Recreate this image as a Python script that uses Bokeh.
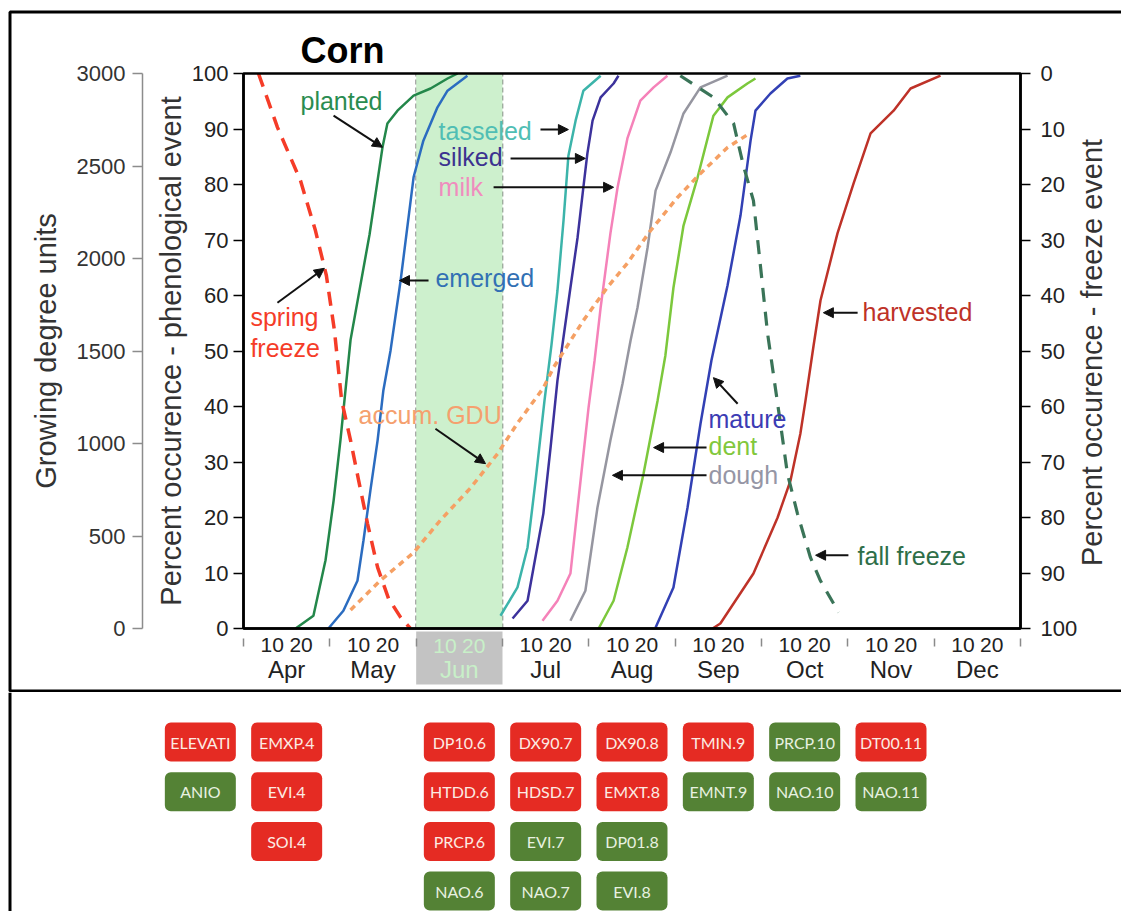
import math
from bokeh.plotting import figure
from bokeh.models import (Range1d, LinearAxis, FixedTicker, Arrow, NormalHead,
                          Label, BoxAnnotation, Span, ColumnDataSource)
from bokeh.layouts import column
from bokeh.embed import file_html
from bokeh.resources import INLINE
from bokeh.core.properties import value

# ---------------------------------------------------------------- data
months = ["Apr", "May", "Jun", "Jul", "Aug", "Sep", "Oct", "Nov", "Dec"]
month_numbers = [4, 5, 6, 7, 8, 9, 10, 11, 12]
day_ticks = [10, 20]
highlight_month = "Jun"
DAYS_PER_MONTH = 30          # the chart draws every month with equal width

percent_ticks = list(range(0, 101, 10))
gdu_ticks = list(range(0, 3001, 500))
GDU_MAX = 3000

# x values: days counted from 1 April (30-day months)
planted_day = [18.1, 24.3, 28.5, 31.3, 33.7, 37.2, 43.8, 48.3, 50.0, 53.5, 59.1, 65.0, 70.9, 74.4]
planted_pct = [0, 2.3, 12.3, 23, 34, 52, 71, 86.7, 91, 93.3, 96, 97.3, 99.1, 100]

emerged_day = [29.5, 34.7, 39.6, 41.7, 44.1, 46.6, 48.6, 51.1, 54.6, 59.1, 62.5, 67.4, 70.9, 77.8]
emerged_pct = [0, 3.2, 8.6, 15.9, 24.9, 33.9, 42.9, 50.1, 62.7, 81.3, 87.9, 93.9, 96.9, 99.6]

tasseled_day = [89.3, 95.2, 98.7, 101.5, 104.6, 107.0, 109.1, 111.2, 112.9, 115.4, 118.1, 124.1]
tasseled_pct = [2.3, 7.4, 14.6, 26.7, 41.1, 51.0, 60.9, 73.5, 85.2, 91.5, 96.9, 99.6]

silked_day = [93.5, 98.7, 100.8, 104.2, 106.7, 109.1, 113.6, 116.1, 118.1, 119.5, 121.3, 124.1, 128.6, 130.3]
silked_pct = [1.8, 5.0, 11.0, 20.7, 32.6, 44.7, 61.4, 70.5, 79.5, 85.6, 91.5, 95.7, 98.2, 99.6]

milk_day = [103.9, 109.1, 113.6, 116.1, 119.9, 122.0, 124.1, 127.5, 130.0, 133.4, 137.9, 142.5, 147.3]
milk_pct = [1.4, 5.0, 9.9, 21.8, 39.8, 48.3, 57.8, 71.2, 79.5, 88.3, 95.1, 97.5, 99.6]

dough_day = [113.6, 118.8, 123.0, 127.5, 131.7, 134.5, 136.9, 140.4, 143.2, 148.4, 152.9, 158.8, 168.2]
dough_pct = [1.4, 6.8, 21.8, 33.9, 44.1, 51.9, 57.8, 68.6, 78.9, 85.8, 92.8, 97.5, 99.6]

dent_day = [123.4, 128.6, 133.4, 139.0, 143.9, 146.6, 149.4, 152.9, 157.8, 163.3, 168.2, 175.1, 177.9]
dent_pct = [0, 5.0, 14.6, 27.9, 41.1, 49.2, 61.4, 72.6, 81.3, 92.4, 95.7, 98.2, 99.1]

mature_day = [143.2, 149.4, 154.3, 158.8, 162.6, 168.2, 172.7, 176.2, 177.9, 183.1, 189.0, 193.5]
mature_pct = [0.2, 7.4, 21.8, 36.9, 48.3, 61.8, 74.4, 87.9, 93.3, 96.4, 99.1, 99.6]

harvested_day = [163.0, 165.7, 177.2, 185.6, 190.1, 193.5, 195.3, 198.1, 200.5, 206.4, 212.0, 217.9, 225.9, 231.8, 242.2]
harvested_pct = [0, 0.9, 9.9, 20.0, 26.7, 35.1, 41.1, 51.0, 59.1, 71.2, 80.2, 89.2, 93.3, 97.3, 99.6]

# freeze events, read on the right-hand (reversed) axis
spring_freeze_day = [5.2, 11.8, 19.8, 25.0, 28.8, 31.6, 34.1, 37.2, 40.0, 43.1, 46.6, 50.4, 54.6, 58.0]
spring_freeze_pct = [0, 9.7, 19.3, 28.3, 36.4, 46.3, 58.9, 66.1, 73.3, 81.1, 89.0, 94.6, 98.0, 100]

fall_freeze_day = [151.8, 163.3, 170.3, 173.7, 177.2, 179.7, 182.1, 186.6, 189.0, 192.5, 197.0, 200.5, 206.8]
fall_freeze_pct = [0.4, 4.3, 9.0, 16.6, 22.9, 35.0, 46.8, 63.1, 72.1, 79.3, 87.2, 91.4, 97.1]

# accumulated growing degree units (left outer axis)
gdu_day = [37.2, 47.6, 59.1, 68.4, 78.9, 88.3, 95.2, 104.2, 107.7, 118.1, 126.5, 133.4, 141.4, 150.8, 158.8, 168.2, 176.2]
gdu_value = [100, 260, 410, 585, 760, 945, 1110, 1300, 1410, 1665, 1845, 1975, 2150, 2330, 2460, 2600, 2680]

# indicator badges: label, month column (3 = not month specific), row, effect
badge_labels = ["ELEVATI", "ANIO",
                "EMXP.4", "EVI.4", "SOI.4",
                "DP10.6", "HTDD.6", "PRCP.6", "NAO.6",
                "DX90.7", "HDSD.7", "EVI.7", "NAO.7",
                "DX90.8", "EMXT.8", "DP01.8", "EVI.8",
                "TMIN.9", "EMNT.9",
                "PRCP.10", "NAO.10",
                "DT00.11", "NAO.11"]
badge_months = [3, 3, 4, 4, 4, 6, 6, 6, 6, 7, 7, 7, 7, 8, 8, 8, 8, 9, 9, 10, 10, 11, 11]
badge_rows = [0, 1, 0, 1, 2, 0, 1, 2, 3, 0, 1, 2, 3, 0, 1, 2, 3, 0, 1, 0, 1, 0, 1]
badge_effect = ["neg", "pos",
                "neg", "neg", "neg",
                "neg", "neg", "neg", "pos",
                "neg", "neg", "pos", "pos",
                "neg", "neg", "pos", "pos",
                "neg", "pos",
                "pos", "pos",
                "neg", "pos"]

# ---------------------------------------------------------------- layout / style
FONT = "Liberation Sans"
W = 1121
H_TOP = 692
H_BOT = 219
FRAME_LEFT, FRAME_RIGHT, FRAME_TOP, FRAME_BOTTOM = 243, 1020, 73, 628
GDU_AXIS_PX = 142
n_days = DAYS_PER_MONTH * len(months)


def px_to_day(px):
    return (px - FRAME_LEFT) * n_days / (FRAME_RIGHT - FRAME_LEFT)


def px_to_pct(py):
    return (FRAME_BOTTOM - py) * 100.0 / (FRAME_BOTTOM - FRAME_TOP)


# the frame covers the whole canvas; the plot area is reached through the ranges
p = figure(width=W, height=H_TOP,
           x_range=Range1d(px_to_day(0), px_to_day(W)),
           y_range=Range1d(px_to_pct(H_TOP), px_to_pct(0)),
           x_axis_location=None, y_axis_location=None,
           output_backend="svg", toolbar_location=None, min_border=0)
p.xgrid.visible = False
p.ygrid.visible = False
p.background_fill_color = "white"
p.border_fill_color = "white"
p.outline_line_color = None

p.extra_y_ranges = {
    "gdu": Range1d(px_to_pct(H_TOP) * GDU_MAX / 100, px_to_pct(0) * GDU_MAX / 100),
    "freeze": Range1d(100 - px_to_pct(H_TOP), 100 - px_to_pct(0)),
}

TICK_FS = "22px"
TITLE_FS = "29px"


def style_axis(ax, color="black", label_color="#222222"):
    ax.axis_label_text_font = FONT
    ax.axis_label_text_font_size = TITLE_FS
    ax.axis_label_text_font_style = "normal"
    ax.axis_label_text_color = "#333333"
    ax.major_label_text_font = FONT
    ax.major_label_text_font_size = TICK_FS
    ax.major_label_text_color = label_color
    ax.axis_line_color = color
    ax.major_tick_line_color = color
    ax.minor_tick_line_color = None


# percent phenological axis (left edge of the plot area)
ax_pct = LinearAxis(ticker=FixedTicker(ticks=percent_ticks), fixed_location=0, bounds=(0, 100),
                    axis_label="Percent occurence - phenological event")
style_axis(ax_pct)
ax_pct.axis_line_width = 2.5
ax_pct.major_tick_line_width = 1.5
ax_pct.major_tick_out = 10
ax_pct.major_tick_in = 0
ax_pct.major_label_standoff = 5
ax_pct.axis_label_standoff = 2
p.add_layout(ax_pct, "left")

# growing degree unit axis
ax_gdu = LinearAxis(y_range_name="gdu", ticker=FixedTicker(ticks=gdu_ticks),
                    fixed_location=px_to_day(GDU_AXIS_PX), bounds=(0, GDU_MAX),
                    axis_label="Growing degree units")
style_axis(ax_gdu, color="#8c8c8c", label_color="#333333")
ax_gdu.axis_line_width = 1.5
ax_gdu.major_tick_line_width = 1.5
ax_gdu.major_tick_out = 10
ax_gdu.major_tick_in = 0
ax_gdu.major_label_standoff = 7
ax_gdu.axis_label_standoff = 12
p.add_layout(ax_gdu, "left")

# freeze axis (right, reversed)
ax_frz = LinearAxis(y_range_name="freeze", ticker=FixedTicker(ticks=percent_ticks),
                    fixed_location=n_days, bounds=(0, 100))
style_axis(ax_frz)
ax_frz.axis_line_width = 2.5
ax_frz.major_tick_line_width = 1.5
ax_frz.major_tick_out = 10
ax_frz.major_tick_in = 0
ax_frz.major_label_standoff = 10
p.add_layout(ax_frz, "right")
p.add_layout(Label(x=px_to_day(1091), y=px_to_pct(352), angle=math.pi / 2,
                   text="Percent occurence - freeze event", text_font=FONT,
                   text_font_size=TITLE_FS, text_color="#333333",
                   text_align="center", text_baseline="middle"))

# x axes: day numbers (with month-boundary marks), then month names
hl = months.index(highlight_month)
day_tick_pos, day_tick_txt, month_pos, month_txt = [], [], [], []
for i, m in enumerate(months):
    if i == hl:
        continue
    for d in day_ticks:
        day_tick_pos.append(i * DAYS_PER_MONTH + d)
        day_tick_txt.append(str(d))
    month_pos.append(i * DAYS_PER_MONTH + DAYS_PER_MONTH / 2)
    month_txt.append(m)
boundaries = [i * DAYS_PER_MONTH for i in range(len(months) + 1)]

ax_day = LinearAxis(ticker=FixedTicker(ticks=day_tick_pos, minor_ticks=boundaries),
                    fixed_location=0, bounds=(0, n_days))
style_axis(ax_day)
ax_day.major_label_overrides = {t: s for t, s in zip(day_tick_pos, day_tick_txt)}
ax_day.major_label_text_font_size = "21px"
ax_day.axis_line_width = 2.5
ax_day.major_tick_line_color = None
ax_day.major_tick_out = 0
ax_day.major_tick_in = 0
ax_day.minor_tick_line_color = "#8a8a8a"
ax_day.minor_tick_line_width = 1.5
ax_day.minor_tick_in = -10
ax_day.minor_tick_out = 18
ax_day.major_label_standoff = -9
p.add_layout(ax_day, "below")

ax_mon = LinearAxis(ticker=FixedTicker(ticks=month_pos), fixed_location=0, bounds=(0, n_days))
style_axis(ax_mon)
ax_mon.major_label_overrides = {t: s for t, s in zip(month_pos, month_txt)}
ax_mon.major_label_text_font_size = "24px"
ax_mon.axis_line_color = None
ax_mon.major_tick_line_color = None
ax_mon.major_tick_out = 0
ax_mon.major_tick_in = 0
ax_mon.major_label_standoff = 27
p.add_layout(ax_mon, "below")

# highlighted month: shading, dashed limits, grey label box with pale labels
hl_left, hl_right = hl * DAYS_PER_MONTH, (hl + 1) * DAYS_PER_MONTH
p.add_layout(BoxAnnotation(left=hl_left, right=hl_right, bottom=0, top=100,
                           fill_color="#cdf0cd", fill_alpha=1.0, line_color=None, level="underlay"))
p.segment(x0=[hl_left, hl_right], y0=[0, 0], x1=[hl_left, hl_right], y1=[100, 100],
          line_color="#6e6e6e", line_dash="5 3", line_width=1.5, level="underlay")
p.add_layout(BoxAnnotation(left=hl_left, right=hl_right, top=px_to_pct(631), bottom=px_to_pct(684),
                           fill_color="#c3c3c3", fill_alpha=1.0, line_color=None, level="underlay"))
for d in day_ticks:
    p.add_layout(Label(x=hl_left + d, y=px_to_pct(645), text=str(d), text_font=FONT,
                       text_font_size="21px", text_color="#c8f0c8", text_align="center",
                       text_baseline="middle"))
p.add_layout(Label(x=(hl_left + hl_right) / 2, y=px_to_pct(669), text=highlight_month, text_font=FONT,
                   text_font_size="24px", text_color="#c8f0c8", text_align="center",
                   text_baseline="middle"))

# plot-area box and outer frame of the picture
p.add_layout(BoxAnnotation(left=0, right=n_days, bottom=0, top=100, fill_color=None,
                           line_color="black", line_alpha=1.0, line_width=2.5))
p.add_layout(BoxAnnotation(left=px_to_day(9.5), right=px_to_day(1140), top=px_to_pct(11.5),
                           bottom=px_to_pct(690.5), fill_color=None, line_color="black",
                           line_alpha=1.0, line_width=3))

# chart title
p.add_layout(Label(x=px_to_day(300), y=px_to_pct(50), text="Corn", text_font=FONT,
                   text_font_size="36px", text_font_style="bold", text_color="black",
                   text_align="left", text_baseline="middle"))

# ---------------------------------------------------------------- series
solid = [
    (planted_day, planted_pct, "#23874a"),
    (emerged_day, emerged_pct, "#2b6cc0"),
    (tasseled_day, tasseled_pct, "#3cb4aa"),
    (silked_day, silked_pct, "#3c329c"),
    (milk_day, milk_pct, "#f582b9"),
    (dough_day, dough_pct, "#9696a0"),
    (dent_day, dent_pct, "#7cc83c"),
    (mature_day, mature_pct, "#3240b4"),
    (harvested_day, harvested_pct, "#be3228"),
]
for xs, ys, c in solid:
    p.line(xs, ys, line_color=c, line_width=2.5)

p.line(spring_freeze_day, spring_freeze_pct, y_range_name="freeze", line_color="#f53c28",
       line_width=3.5, line_dash="14 9")
p.line(fall_freeze_day, fall_freeze_pct, y_range_name="freeze", line_color="#3a7458",
       line_width=3.2, line_dash="14 10")
p.line(gdu_day, gdu_value, y_range_name="gdu", line_color="#f5a064",
       line_width=3.5, line_dash="6 5")

# ---------------------------------------------------------------- annotations
ann = ColumnDataSource(dict(
    text=["planted", "tasseled", "silked", "milk", "emerged", "spring\nfreeze", "accum. GDU",
          "mature", "dent", "dough", "harvested", "fall freeze"],
    x=[19.8, 67.8, 67.8, 67.8, 66.7, 2.4, 40.0, 161.6, 161.6, 161.6, 215.1, 213.4],
    y=[95.1, 89.7, 84.9, 79.5, 63.2, 53.3, 38.4, 37.7, 32.8, 27.7, 57.1, 13.0],
    color=["#2a8c50", "#50beb4", "#3c3290", "#f08cbe", "#3270b4", "#f53c28", "#f5a06e",
           "#3c3cb4", "#82c83c", "#9696a5", "#be3228", "#2e6e48"],
))
p.text(x="x", y="y", text="text", text_color="color", source=ann, text_font=value(FONT),
       text_font_size="25px", text_align="left", text_baseline="middle", text_line_height=1.12)

arr = ColumnDataSource(dict(
    x0=[31.3, 103.2, 92.8, 86.9, 64.3, 11.8, 66.7, 171.7, 160.9, 160.9, 213.4, 210.2],
    y0=[92.4, 89.9, 84.7, 79.5, 62.7, 58.7, 36.0, 40.5, 32.6, 27.6, 56.9, 13.2],
    x1=[48.3, 112.9, 118.8, 128.6, 54.2, 28.1, 84.1, 163.3, 142.5, 128.2, 201.5, 198.8],
    y1=[86.7, 89.9, 84.7, 79.5, 62.7, 64.9, 29.7, 45.2, 32.6, 27.6, 56.9, 13.2],
))
p.add_layout(Arrow(x_start="x0", y_start="y0", x_end="x1", y_end="y1", source=arr,
                   line_color="#111111", line_width=2,
                   end=NormalHead(size=10, fill_color="#111111", line_color="#111111")))

# ---------------------------------------------------------------- badge strip
MONTH_PX = (FRAME_RIGHT - FRAME_LEFT) / len(months)
bx0 = month_numbers[0] - FRAME_LEFT / MONTH_PX
ROW_PX = 49.7
ROW0_PX = 49.5
BADGE_W = 71 / MONTH_PX
BADGE_H = 39 / ROW_PX

b = figure(width=W, height=H_BOT, x_range=Range1d(bx0, bx0 + W / MONTH_PX),
           y_range=Range1d((H_BOT - ROW0_PX) / ROW_PX, -ROW0_PX / ROW_PX),
           x_axis_location=None, y_axis_location=None, min_border=0,
           output_backend="svg", toolbar_location=None)
b.xgrid.visible = False
b.ygrid.visible = False
b.outline_line_color = None
b.background_fill_color = "white"
b.border_fill_color = "white"

fill_map = {"neg": "#e52b23", "pos": "#548235"}
text_map = {"neg": "#fcebe3", "pos": "#e8f1e0"}
bx = [m + 0.5 for m in badge_months]
bsrc = ColumnDataSource(dict(
    label=badge_labels, x=bx, y=badge_rows,
    left=[x - BADGE_W / 2 for x in bx], right=[x + BADGE_W / 2 for x in bx],
    top=[r - BADGE_H / 2 for r in badge_rows], bottom=[r + BADGE_H / 2 for r in badge_rows],
    fill=[fill_map[e] for e in badge_effect], tcol=[text_map[e] for e in badge_effect],
))
try:
    b.quad(left="left", right="right", top="top", bottom="bottom", source=bsrc,
           fill_color="fill", line_color=None, border_radius=6)
except Exception:
    b.quad(left="left", right="right", top="top", bottom="bottom", source=bsrc,
           fill_color="fill", line_color=None)
b.text(x="x", y="y", text="label", source=bsrc, text_color="tcol", text_font=value("Lato"),
       text_font_size="16px", text_align="center", text_baseline="middle")

b.add_layout(Span(location=bx0 + 9.5 / MONTH_PX, dimension="height", line_color="black",
                  line_width=3))

layout = column(p, b, spacing=0)
open("out.html", "w").write(file_html(layout, INLINE))
